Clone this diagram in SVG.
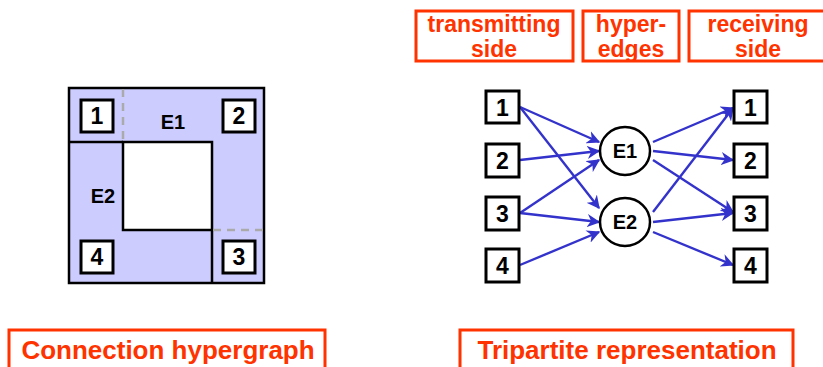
<svg xmlns="http://www.w3.org/2000/svg" width="823" height="367" viewBox="0 0 823 367">
<defs>
<style>
.lbl{fill:none;stroke:#FF3300;stroke-width:3}
.lt{fill:#FF3300;font-family:"Liberation Sans",Arial,sans-serif;font-weight:bold;text-anchor:middle}
.box{fill:#fff;stroke:#000;stroke-width:3}
.num{font-family:"Liberation Sans",Arial,sans-serif;font-weight:bold;font-size:23px;text-anchor:middle;fill:#000}
.e{font-family:"Liberation Sans",Arial,sans-serif;font-weight:bold;font-size:20px;text-anchor:middle;fill:#000}
.edge{stroke:#3333CC;stroke-width:2.4;fill:none;marker-end:url(#ah)}
.dash{stroke:#AAAAAA;stroke-width:2.5;stroke-dasharray:8,6;fill:none}
</style>
<marker id="ah" viewBox="0 0 10 10" refX="9" refY="5" markerWidth="5.5" markerHeight="5.5" orient="auto" markerUnits="strokeWidth">
<path d="M0,0 L10,5 L0,10 L3,5 z" fill="#3333CC"/>
</marker>
</defs>

<!-- Left: connection hypergraph -->
<g id="hypergraph">
<rect x="69" y="88" width="195" height="195" fill="#CCCCFF" stroke="#000" stroke-width="2.5"/>
<rect x="123" y="142" width="89" height="88" fill="#fff" stroke="#000" stroke-width="2.5"/>
<line x1="69" y1="142" x2="123" y2="142" stroke="#000" stroke-width="2.5"/>
<line x1="212" y1="230" x2="212" y2="283" stroke="#000" stroke-width="2.5"/>
<line class="dash" x1="123" y1="89" x2="123" y2="141"/>
<line class="dash" x1="213" y1="230" x2="263" y2="230"/>
<text class="e" x="173" y="129">E1</text>
<text class="e" x="103" y="203">E2</text>
</g>
<g id="hg-1"><rect class="box" x="81" y="100" width="32" height="32"/><text class="num" x="97" y="124">1</text></g>
<g id="hg-2"><rect class="box" x="223" y="100" width="32" height="32"/><text class="num" x="239" y="124">2</text></g>
<g id="hg-3"><rect class="box" x="223" y="241" width="32" height="32"/><text class="num" x="239" y="265">3</text></g>
<g id="hg-4"><rect class="box" x="81" y="241" width="32" height="32"/><text class="num" x="97" y="265">4</text></g>

<!-- Top labels -->
<g id="lbl-transmitting"><rect class="lbl" x="416" y="11" width="157" height="50"/><text class="lt" x="494" y="32" font-size="23">transmitting</text><text class="lt" x="494" y="57" font-size="23">side</text></g>
<g id="lbl-hyperedges"><rect class="lbl" x="583" y="11" width="96" height="50"/><text class="lt" x="631" y="32" font-size="23">hyper-</text><text class="lt" x="631" y="57" font-size="23">edges</text></g>
<g id="lbl-receiving"><rect class="lbl" x="689" y="11" width="140" height="50"/><text class="lt" x="758" y="32" font-size="23">receiving</text><text class="lt" x="758" y="57" font-size="23">side</text></g>

<!-- Bottom labels -->
<g id="lbl-connection"><rect class="lbl" x="9" y="330" width="316" height="50"/><text class="lt" x="168" y="359" font-size="26">Connection hypergraph</text></g>
<g id="lbl-tripartite"><rect class="lbl" x="460" y="330" width="333" height="50"/><text class="lt" x="627" y="359" font-size="26">Tripartite representation</text></g>

<!-- Connectors -->
<g id="connectors">
<line class="edge" x1="520" y1="107" x2="599" y2="142"/>
<line class="edge" x1="520" y1="107" x2="599" y2="208"/>
<line class="edge" x1="520" y1="160" x2="599" y2="151"/>
<line class="edge" x1="520" y1="213" x2="599" y2="160"/>
<line class="edge" x1="520" y1="213" x2="599" y2="222"/>
<line class="edge" x1="520" y1="265" x2="599" y2="232"/>
<line class="edge" x1="653" y1="142" x2="733" y2="108"/>
<line class="edge" x1="653" y1="151" x2="733" y2="160"/>
<line class="edge" x1="653" y1="160" x2="733" y2="212"/>
<line class="edge" x1="653" y1="212" x2="733" y2="108"/>
<line class="edge" x1="653" y1="222" x2="733" y2="213"/>
<line class="edge" x1="653" y1="232" x2="733" y2="265"/>
</g>

<!-- Right: tripartite nodes -->
<g id="t-1"><rect class="box" x="486" y="91" width="33" height="32"/><text class="num" x="502.5" y="116">1</text></g>
<g id="t-2"><rect class="box" x="486" y="144" width="33" height="33"/><text class="num" x="502.5" y="169">2</text></g>
<g id="t-3"><rect class="box" x="486" y="197" width="33" height="33"/><text class="num" x="502.5" y="222">3</text></g>
<g id="t-4"><rect class="box" x="486" y="249" width="33" height="33"/><text class="num" x="502.5" y="274">4</text></g>
<g id="e-1"><ellipse cx="625" cy="151" rx="25" ry="24" fill="#fff" stroke="#000" stroke-width="2.5"/><text class="e" x="625" y="158">E1</text></g>
<g id="e-2"><ellipse cx="625" cy="222" rx="25" ry="24" fill="#fff" stroke="#000" stroke-width="2.5"/><text class="e" x="625" y="229">E2</text></g>
<g id="r-1"><rect class="box" x="734" y="91" width="33" height="32"/><text class="num" x="750.5" y="116">1</text></g>
<g id="r-2"><rect class="box" x="734" y="144" width="33" height="33"/><text class="num" x="750.5" y="169">2</text></g>
<g id="r-3"><rect class="box" x="734" y="197" width="33" height="33"/><text class="num" x="750.5" y="222">3</text></g>
<g id="r-4"><rect class="box" x="734" y="249" width="33" height="33"/><text class="num" x="750.5" y="274">4</text></g>
</svg>
